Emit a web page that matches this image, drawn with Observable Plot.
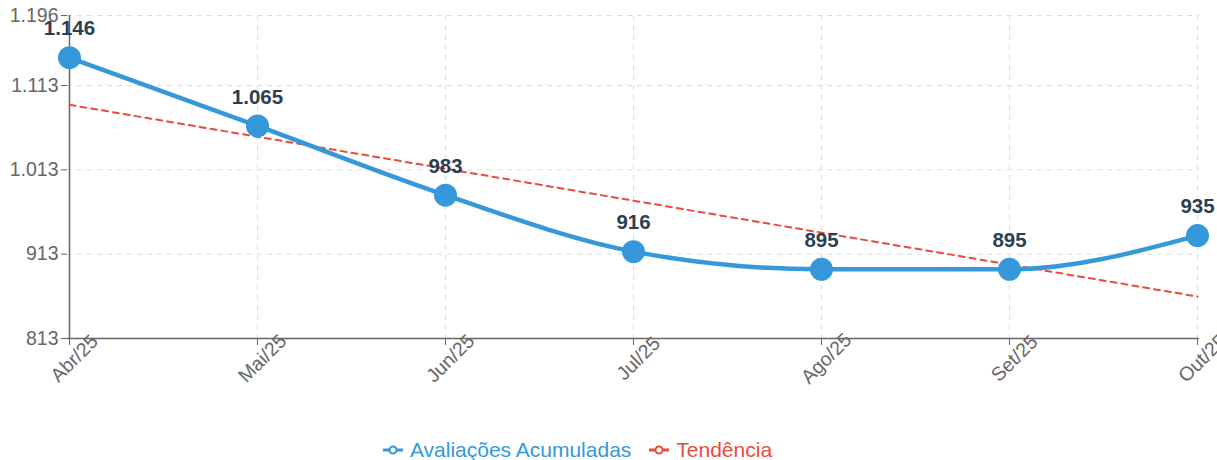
<!DOCTYPE html>
<html>
<head>
<meta charset="utf-8">
<script src="https://cdn.jsdelivr.net/npm/d3@7"></script>
<script src="https://cdn.jsdelivr.net/npm/@observablehq/plot@0.6"></script>
<style>
  body { margin: 0; background: #fff; font-family: "Liberation Sans", Arial, sans-serif; }
  #chart g[aria-label="y-axis tick label"], #chart g[aria-label="y-axis tick label"] text { font-size: 19.5px; }
  #legend { display: flex; justify-content: center; align-items: center; gap: 18px; height: 40px; font-size: 21px; padding-right: 62px; }
  .item { display: flex; align-items: center; gap: 7px; }
</style>
</head>
<body>
<div id="chart"></div>
<div id="legend"></div>
<script>
const months = ["Abr/25", "Mai/25", "Jun/25", "Jul/25", "Ago/25", "Set/25", "Out/25"];
const values = [1146, 1065, 983, 916, 895, 895, 935];
const yTicks = [813, 913, 1013, 1113, 1196];
const seriesNames = ["Avaliações Acumuladas", "Tendência"];
const colors = ["#3498db", "#e74c3c"];

const data = months.map((m, i) => ({ month: m, idx: i, value: values[i] }));
const fmt = d3.formatLocale({ decimal: ",", thousands: ".", grouping: [3], currency: ["R$", ""] }).format(",d");

// linear regression trend computed from the data
const mx = d3.mean(data, d => d.idx), my = d3.mean(values);
const slope = d3.sum(data, d => (d.idx - mx) * (d.value - my)) / d3.sum(data, d => (d.idx - mx) ** 2);
const trend = data.map(d => ({ month: d.month, value: my + slope * (d.idx - mx) }));

const chart = Plot.plot({
  width: 1217,
  height: 430,
  marginLeft: 67,
  marginRight: 18,
  marginTop: 15,
  marginBottom: 92,
  style: { fontFamily: "Liberation Sans, Arial, sans-serif", fontSize: "19.5px", color: "#666", background: "#fff", overflow: "visible" },
  x: { type: "point", domain: months, padding: 0, label: null },
  y: { domain: [813, 1196], label: null },
  marks: [
    Plot.gridY(yTicks, { stroke: "#ddd", strokeOpacity: 1, strokeDasharray: "5,5" }),
    Plot.gridX(months, { stroke: "#ddd", strokeOpacity: 1, strokeDasharray: "5,5" }),
    Plot.axisY({ ticks: yTicks, tickFormat: fmt, tickSize: 6, tickPadding: 3, fontSize: 19.5, color: "#666", stroke: "#666" }),
    Plot.axisX({ tickSize: 7, tickFormat: () => "", color: "#666", stroke: "#666" }),
    Plot.text(months, { x: d => d, y: () => 813, text: d => d, rotate: -45, textAnchor: "middle", dx: 5, dy: 20, fontSize: 19.5, fill: "#666" }),
    Plot.ruleX([months[0]], { stroke: "#666", strokeWidth: 1.5 }),
    Plot.ruleY([813], { stroke: "#666", strokeWidth: 1.5 }),
    Plot.line(trend, { x: "month", y: "value", stroke: colors[1], strokeWidth: 2, strokeDasharray: "6,5" }),
    Plot.line(data, { x: "month", y: "value", stroke: colors[0], strokeWidth: 4.5, curve: "monotone-x" }),
    Plot.dot(data, { x: "month", y: "value", r: 11.5, fill: colors[0], stroke: "none" }),
    Plot.text(data, { x: "month", y: "value", text: d => fmt(d.value), dy: -29, fontSize: 20.5, fontWeight: "bold", fill: "#2c3e50" })
  ]
});
document.getElementById("chart").append(chart);

const legend = document.getElementById("legend");
seriesNames.forEach((name, i) => {
  const item = document.createElement("div");
  item.className = "item";
  item.style.color = colors[i];
  item.innerHTML = `<svg width="20" height="12"><line x1="0" y1="6" x2="20" y2="6" stroke="${colors[i]}" stroke-width="3"/><circle cx="10" cy="6" r="3.5" fill="#fff" stroke="${colors[i]}" stroke-width="2"/></svg><span>${name}</span>`;
  legend.append(item);
});
</script>
</body>
</html>
